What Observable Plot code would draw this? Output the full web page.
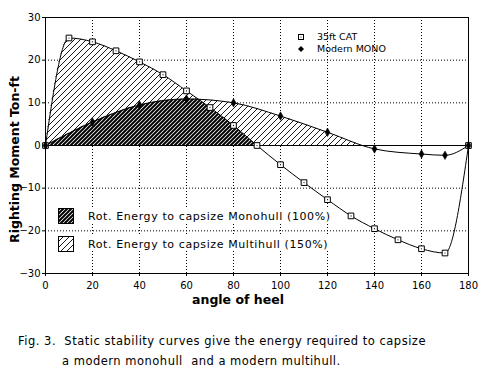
<!DOCTYPE html>
<html><head><meta charset="utf-8">
<script src="https://cdn.jsdelivr.net/npm/d3@7"></script>
<script src="https://cdn.jsdelivr.net/npm/@observablehq/plot@0.6"></script>
<style>
body{margin:0;background:#fff;}
#wrap{position:relative;width:494px;height:382px;overflow:hidden;}
#cap{position:absolute;left:18px;top:331px;font-family:"DejaVu Sans",sans-serif;font-size:11.5px;letter-spacing:0.5px;line-height:20px;color:#000;white-space:nowrap;}
#cap .l2{padding-left:44px;}
</style></head><body>
<div id="wrap"><div id="chart"></div>
<div id="cap"><div>Fig. 3.&nbsp; Static stability curves give the energy required to capsize</div><div class="l2">a modern monohull&nbsp; and a modern multihull.</div></div></div>
<script>
// ---- data ----
const catAngles  = [0,10,20,30,40,50,60,70,80,90,100,110,120,130,140,150,160,170,180];
const catMoment  = [0,25.2,24.3,22.2,19.6,16.6,12.8,8.9,4.7,0,-4.5,-8.7,-12.7,-16.5,-19.5,-22.1,-24.2,-25.2,0];
const monoAngles = [0,20,40,60,80,100,120,140,160,170,180];
const monoMoment = [0,5.5,9.5,10.9,10.0,6.9,3.1,-0.8,-2.0,-2.3,0];
const xTicks = [0,20,40,60,80,100,120,140,160,180];
const yTicks = [-30,-20,-10,0,10,20,30];
const seriesNames = ["35ft CAT","Modern MONO"];
const energyLabels = ["Rot. Energy to capsize Monohull (100%)","Rot. Energy to capsize Multihull (150%)"];
const xTitle = "angle of heel";
const yTitle = "Righting Moment Ton-ft";

const cat = catAngles.map((a,i)=>({a, m:catMoment[i]}));
const mono = monoAngles.map((a,i)=>({a, m:monoMoment[i]}));
const F = "DejaVu Sans, sans-serif";
const NS = "http://www.w3.org/2000/svg";
let catD = null;

function el(tag, attrs, parent) {
  const e = document.createElementNS(NS, tag);
  for (const k in attrs) e.setAttribute(k, attrs[k]);
  if (parent) parent.appendChild(e);
  return e;
}
function makeDefs(g, scales) {
  const defs = el("defs", {}, g);
  const pl = el("pattern", {id: "hatchLight", patternUnits: "userSpaceOnUse", width: 6, height: 6}, defs);
  el("rect", {width: 6, height: 6, fill: "#fff"}, pl);
  el("path", {d: "M-1,7L7,-1M-1,1L1,-1M5,7L7,5", stroke: "#000", "stroke-width": 0.9}, pl);
  const pd = el("pattern", {id: "hatchDark", patternUnits: "userSpaceOnUse", width: 4, height: 4}, defs);
  el("rect", {width: 4, height: 4, fill: "#fff"}, pd);
  el("path", {d: "M-1,5L5,-1M-1,1L1,-1M3,5L5,3", stroke: "#000", "stroke-width": 2.0}, pd);
  const cp = el("clipPath", {id: "posClip"}, defs);
  const y0 = scales.y(0), yT = scales.y(30), x0 = scales.x(0), x1 = scales.x(180);
  el("rect", {x: x0, y: yT - 2, width: x1 - x0, height: y0 - yT + 2}, cp);
}

const plot = Plot.plot({
  width: 494, height: 318,
  marginLeft: 45, marginRight: 26, marginTop: 17, marginBottom: 45,
  style: {fontFamily: F, fontSize: "10px", background: "#fff", color: "#000", overflow: "visible"},
  x: {domain: [0,180], ticks: xTicks, label: null, tickSize: 3, tickPadding: 5},
  y: {domain: [-30,30], ticks: yTicks, label: null, tickSize: 3, tickPadding: 2},
  marks: [
    Plot.gridX(xTicks, {stroke: "#000", strokeOpacity: 1, strokeDasharray: "1,2", strokeWidth: 1}),
    Plot.gridY(yTicks, {stroke: "#000", strokeOpacity: 1, strokeDasharray: "1,2", strokeWidth: 1}),
    Plot.areaY(cat, {x: "a", y: "m", curve: "monotone-x", fill: "url(#hatchLight)",
      render: (index, scales, values, dims, ctx, next) => {
        const g = next(index, scales, values, dims, ctx);
        makeDefs(g, scales);
        const p = g.querySelector("path");
        catD = p ? p.getAttribute("d") : null;
        g.setAttribute("clip-path", "url(#posClip)");
        return g;
      }}),
    Plot.areaY(mono, {x: "a", y: "m", curve: "monotone-x", fill: "url(#hatchLight)",
      render: (index, scales, values, dims, ctx, next) => {
        const g = next(index, scales, values, dims, ctx);
        g.setAttribute("clip-path", "url(#posClip)");
        return g;
      }}),
    Plot.areaY(mono, {x: "a", y: "m", curve: "monotone-x", fill: "url(#hatchDark)",
      render: (index, scales, values, dims, ctx, next) => {
        const inner = next(index, scales, values, dims, ctx);
        const outer = el("g", {"clip-path": "url(#posClip)"});
        const cp = el("clipPath", {id: "catClip"}, outer);
        if (catD) el("path", {d: catD}, cp);
        inner.setAttribute("clip-path", "url(#catClip)");
        outer.appendChild(inner);
        return outer;
      }}),
    Plot.ruleY([0], {stroke: "#000", strokeWidth: 1}),
    Plot.line(cat, {x: "a", y: "m", curve: "monotone-x", stroke: "#000", strokeWidth: 1}),
    Plot.line(mono, {x: "a", y: "m", curve: "monotone-x", stroke: "#000", strokeWidth: 1}),
    Plot.dot(cat, {x: "a", y: "m", symbol: "square", r: 3.2, fill: "#fff", stroke: "#000", strokeWidth: 1}),
    Plot.dot(cat, {x: "a", y: "m", r: 0.6, fill: "#000"}),
    Plot.dot(mono, {x: "a", y: "m", symbol: "diamond", r: 2.6, fill: "#000", stroke: "#000", strokeWidth: 0.5}),
    Plot.frame({stroke: "#000", strokeWidth: 1}),
    Plot.text([xTitle], {frameAnchor: "bottom", textAnchor: "middle", dx: -19, dy: 30, fontWeight: "bold", fontSize: 12.5, fontFamily: F}),
    Plot.text([yTitle], {frameAnchor: "left", textAnchor: "middle", dx: -31, dy: 14, rotate: -90, fontWeight: "bold", fontSize: 12.5, fontFamily: F, style: "letter-spacing:0.9px"})
  ]
});

const svg = d3.select(plot);
const sx = plot.scale("x"), sy = plot.scale("y");
const x = v => sx.apply(v), y = v => sy.apply(v);

// top-right series legend
const lg = svg.append("g").attr("font-family", F).attr("font-size", 9.5).attr("text-anchor", "start");
const lx = x(0) + 256, ly = y(30) + 20;
lg.append("rect").attr("x", lx-2.5).attr("y", ly-2.5).attr("width",5).attr("height",5).attr("fill","#fff").attr("stroke","#000");
lg.append("circle").attr("cx", lx).attr("cy", ly).attr("r",0.6).attr("fill","#000");
lg.append("path").attr("d", `M${lx},${ly+12-3}L${lx+3},${ly+12}L${lx},${ly+12+3}L${lx-3},${ly+12}Z`).attr("fill","#000");
lg.append("text").attr("x", lx+16).attr("y", ly).attr("dy","0.35em").text(seriesNames[0]);
lg.append("text").attr("x", lx+16).attr("y", ly+12).attr("dy","0.35em").text(seriesNames[1]);

// energy legend
const eg = svg.append("g").attr("font-family", F).attr("font-size", 11).attr("text-anchor", "start").attr("letter-spacing", "0.6px");
const ex = x(0) + 13;
[["url(#hatchDark)", energyLabels[0], 208], ["url(#hatchLight)", energyLabels[1], 236]].forEach(([f, t, top]) => {
  eg.append("rect").attr("x", ex + 25).attr("y", top).attr("width", 250).attr("height", 15).attr("fill", "#fff");
  eg.append("rect").attr("x", ex+0.5).attr("y", top+0.5).attr("width", 15).attr("height", 15).attr("fill", f).attr("stroke","#000");
  eg.append("text").attr("x", ex + 30).attr("y", top + 8).attr("dy","0.35em").text(t);
});

document.getElementById("chart").appendChild(plot);
</script>
</body></html>
